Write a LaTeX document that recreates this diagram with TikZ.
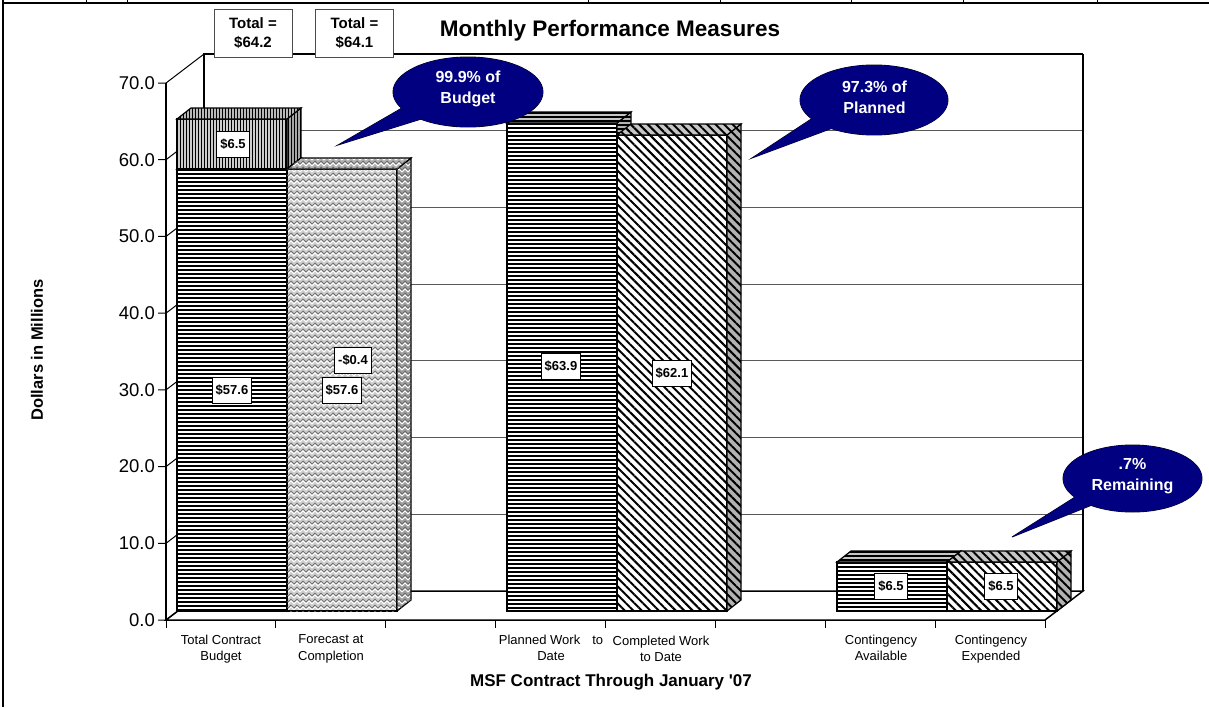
\documentclass[tikz,border=0pt]{standalone}
\usepackage{fontspec}
\setmainfont{Liberation Sans}[Ligatures=TeXOff]
\usetikzlibrary{patterns,patterns.meta}
\definecolor{calloutblue}{RGB}{0,0,128}
\pgfdeclarepatternformonly{weave}{\pgfqpoint{-1pt}{-1pt}}{\pgfqpoint{7pt}{7pt}}{\pgfqpoint{6pt}{6pt}}{%
  \pgfsetlinewidth{0.9pt}%
  \pgfpathmoveto{\pgfqpoint{0pt}{1pt}}\pgfpathlineto{\pgfqpoint{3pt}{4pt}}\pgfpathlineto{\pgfqpoint{6pt}{1pt}}%
  \pgfusepath{stroke}}
\pgfdeclarepatternformonly{weavedark}{\pgfqpoint{-1pt}{-1pt}}{\pgfqpoint{7pt}{7pt}}{\pgfqpoint{6pt}{6pt}}{%
  \pgfsetlinewidth{0.7pt}%
  \pgfpathmoveto{\pgfqpoint{0pt}{3pt}}\pgfpathlineto{\pgfqpoint{3pt}{6pt}}\pgfpathlineto{\pgfqpoint{6pt}{3pt}}%
  \pgfusepath{stroke}}
\newcommand\mybar[6]{%
  \draw[barline,#4] (#1,#2) rectangle ({#1+110},#3);
  \draw[barline,#5] ({#1+110},#2) -- ({#1+124},{#2-11}) -- ({#1+124},{#3-11}) -- ({#1+110},#3) -- cycle;
  \draw[barline,#6] (#1,#3) -- ({#1+14},{#3-11}) -- ({#1+124},{#3-11}) -- ({#1+110},#3) -- cycle;
}
\begin{document}
\begin{tikzpicture}[x=1pt,y=-1pt,
  barline/.style={draw=black,line width=1.2pt},
  hst/.style={fill=#1,path picture={%
     \foreach \yy in {1,5,...,509} \draw[black,line width=1.4pt]
       ([yshift=-\yy pt]path picture bounding box.north west) -- ([yshift=-\yy pt]path picture bounding box.north east);}},
  vst/.style={preaction={fill=#1},pattern={Lines[angle=90,distance=3pt,line width=1pt]},pattern color=black},
  dst/.style={preaction={fill=#1},pattern={Lines[angle=-45,distance=6pt,line width=2pt]},pattern color=black},
  wv/.style={preaction={fill=#1},pattern=weave,pattern color=white,postaction={pattern=weavedark,pattern color=gray!80!black}},
  vlabel/.style={draw=black,fill=white,line width=0.9pt,font=\bfseries\fontsize{13}{15}\selectfont,inner xsep=3.5pt,inner ysep=0pt,minimum height=26pt},
  totalbox/.style={draw=black!70,fill=white,line width=0.9pt,font=\bfseries\fontsize{15}{19}\selectfont,align=center,minimum width=78pt,minimum height=48pt,inner sep=0pt},
  cattext/.style={font=\fontsize{13}{16.5}\selectfont,align=center},
  ytext/.style={font=\fontsize{18.5}{20}\selectfont,anchor=east,inner sep=1pt},
  callouttext/.style={font=\bfseries\fontsize{16}{21}\selectfont,text=white,align=center},
  grid/.style={draw=black!65,line width=0.9pt},
  axisline/.style={draw=black,line width=1.5pt}]
\useasboundingbox (0,0) rectangle (1209,707);
% outer frame
\draw[line width=2pt] (3,0) -- (3,707);
\draw[line width=2pt] (2,3) -- (1209,3);
\foreach \x in {86,127,588,720,851,963,1097} \draw[line width=1pt] (\x,0) -- (\x,3);
% back wall grid
\foreach \k in {1,...,6} \draw[grid] (204,{591-76.71*\k}) -- (1083,{591-76.71*\k});
\draw[axisline] (204,591) -- (204,54) -- (1083,54);
\draw[line width=1.2pt] (1083,54) -- (1083,591);
% floor
\draw[axisline] (166,620) -- (1045,620) -- (1083,591) -- (204,591) -- cycle;
% y axis
\draw[axisline] (166,83) -- (166,620);
\foreach \k/\t in {0/0.0,1/10.0,2/20.0,3/30.0,4/40.0,5/50.0,6/60.0,7/70.0} {
  \draw[line width=1pt] (158,{620-76.71*\k}) -- (166,{620-76.71*\k}) -- (204,{591-76.71*\k});
  \node[ytext] (y\k) at (156,{620-76.71*\k}) {\t};
}
\foreach \i in {0,...,8} \draw[line width=1pt] ({166+109.9*\i},620) -- ({166+109.9*\i},628);
% bars
\mybar{177}{611}{169}{hst=white}{hst=gray!60}{hst=gray!40}
\mybar{177}{169}{119}{vst=gray!40}{vst=gray!70}{vst=gray!55}
\mybar{287}{611}{169}{wv=gray!40}{wv=gray!75}{wv=gray!60}
\mybar{507}{611}{123}{hst=white}{hst=gray!60}{hst=gray!45}
\mybar{617}{611}{135}{dst=white}{dst=gray!60}{dst=gray!45}
\mybar{837}{611}{562}{hst=white}{hst=gray!60}{hst=gray!45}
\mybar{947}{611}{562}{dst=white}{dst=gray!60}{dst=gray!45}
% value labels
\node[vlabel] (v1) at (233,144) {\$6.5};
\node[vlabel] (v2) at (232,390) {\$57.6};
\node[vlabel] (v3) at (353,360) {-\$0.4};
\node[vlabel] (v4) at (342,390) {\$57.6};
\node[vlabel] (v5) at (561,366) {\$63.9};
\node[vlabel] (v6) at (672,373) {\$62.1};
\node[vlabel] (v7) at (891,586) {\$6.5};
\node[vlabel] (v8) at (1001,586) {\$6.5};
% totals
\node[totalbox] (t1) at (253,33) {Total =\\\$64.2};
\node[totalbox] (t2) at (354.5,33) {Total =\\\$64.1};
% titles
\node[font=\bfseries\fontsize{22.5}{26}\selectfont,anchor=base] (title) at (610,36) {Monthly Performance Measures};
\node[font=\bfseries\fontsize{17}{20}\selectfont,anchor=base] (xtitle) at (611,686) {MSF Contract Through January '07};
\node[font=\bfseries\fontsize{16.5}{20}\selectfont,rotate=90] (ytitle) at (37,350) {Dollars in Millions};
% category labels
\node[cattext] (c1) at (221,649) {Total Contract\\Budget};
\node[cattext] (c2) at (331,649) {Forecast at\\Completion};
\node[cattext] (c3) at (551,648) {Planned Work\hspace{12pt}to\\Date};
\node[cattext] (c4) at (661,649) {Completed Work\\to Date};
\node[cattext] (c5) at (881,648) {Contingency\\Available};
\node[cattext] (c6) at (991,649) {Contingency\\Expended};
% callouts
\draw[line width=0.9pt] (338,145) -- (421,97) -- (447,111) -- cycle;
\draw[line width=0.9pt] (468,92) ellipse [x radius=75pt, y radius=35pt];
\draw[line width=0.9pt] (752,158) -- (831,106) -- (857,119) -- cycle;
\draw[line width=0.9pt] (874,100) ellipse [x radius=74pt, y radius=35pt];
\draw[line width=0.9pt] (1012,537) -- (1094,485) -- (1117,495) -- cycle;
\draw[line width=0.9pt] (1132.5,478.5) ellipse [x radius=69.5pt, y radius=33.5pt];
\fill[calloutblue] (338,145) -- (421,97) -- (447,111) -- cycle;
\fill[calloutblue] (468,92) ellipse [x radius=75pt, y radius=35pt];
\fill[calloutblue] (752,158) -- (831,106) -- (857,119) -- cycle;
\fill[calloutblue] (874,100) ellipse [x radius=74pt, y radius=35pt];
\fill[calloutblue] (1012,537) -- (1094,485) -- (1117,495) -- cycle;
\fill[calloutblue] (1132.5,478.5) ellipse [x radius=69.5pt, y radius=33.5pt];
\node[callouttext] (k1) at (468,89) {99.9\% of\\Budget};
\node[callouttext] (k2) at (874.5,97) {97.3\% of\\Planned};
\node[callouttext] (k3) at (1132.5,476) {.7\%\\Remaining};
\end{tikzpicture}
\end{document}
